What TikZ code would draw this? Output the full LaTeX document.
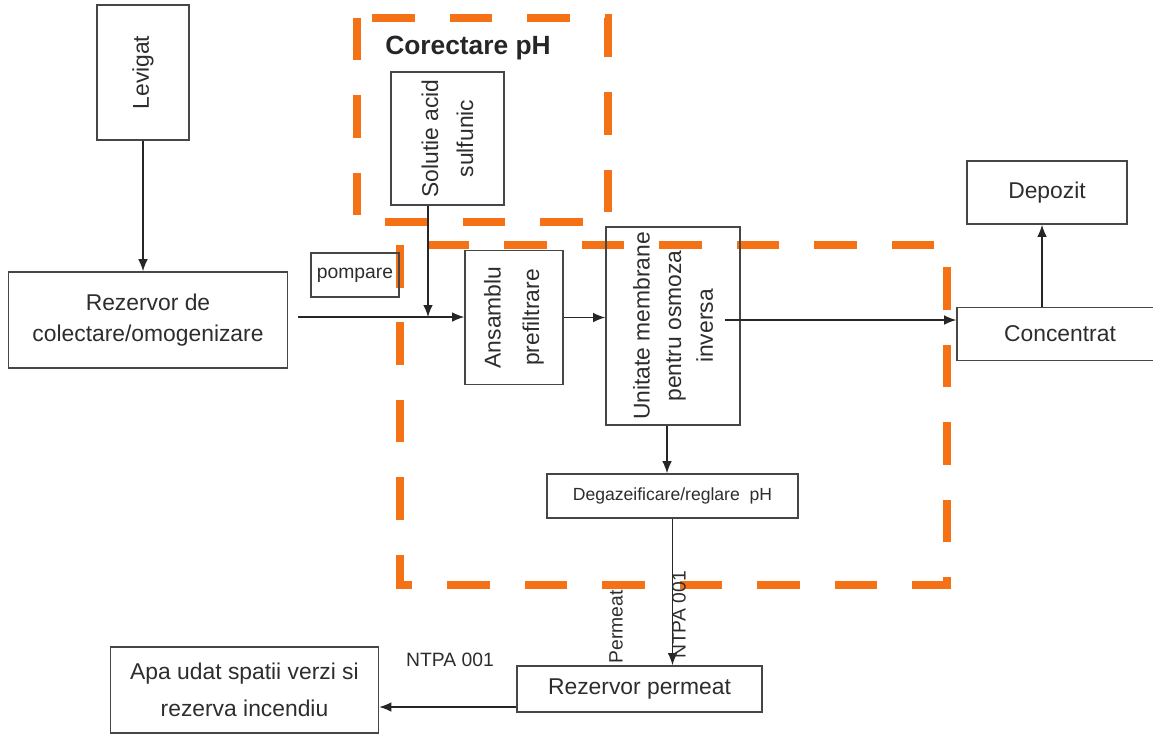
\documentclass[tikz,border=0pt]{standalone}
\usepackage{fontspec}
\setmainfont{Liberation Sans}
\usetikzlibrary{arrows.meta}
\definecolor{frameorange}{RGB}{244,113,22}
\definecolor{boxgray}{RGB}{70,70,70}
\definecolor{txtgray}{RGB}{45,45,45}
\begin{document}
\begin{tikzpicture}[x=0.02cm,y=-0.02cm,
  box/.style={draw=boxgray,line width=0.9pt,inner sep=0pt,align=center,text=txtgray,font=\fontsize{13}{18}\selectfont},
  vbox/.style={box,rotate=90},
  flow/.style={draw=black!85,line width=0.7pt,-{Latex[length=2.4mm,width=1.9mm]}},
  corr/.style={draw=frameorange,line width=4.5pt,dash pattern=on 0.85cm off 0.7cm},
  lbl/.style={text=txtgray,inner sep=0pt,font=\fontsize{11}{13}\selectfont}]
\useasboundingbox (0,0) rectangle (1153,735);
%pixel coordinates, y down; vbox: west=bottom, east=top, north=left, south=right

\draw[corr] (357,18) rectangle (608,222);
\draw[corr] (400,245) rectangle (947,585);
\node[font=\bfseries\fontsize{15}{18}\selectfont,text=black!85] (corhead) at (468,48) {Corectare pH};

\node[vbox,minimum width=2.70cm,minimum height=1.84cm] (lev) at (143,72.5) {Levigat};
\node[box,minimum width=5.58cm,minimum height=1.92cm] (rezcol) at (148,320) {Rezervor de\\colectare/omogenizare};
\node[box,minimum width=1.76cm,minimum height=0.88cm,font=\fontsize{11}{13}\selectfont] (pomp) at (355,275) {pompare};
\node[vbox,minimum width=2.66cm,minimum height=2.26cm,font=\fontsize{13}{20}\selectfont] (acid) at (447.5,138.5) {Solutie acid\\sulfunic};
\node[vbox,minimum width=2.68cm,minimum height=1.96cm,font=\fontsize{13}{22}\selectfont] (prefil) at (514,317.5) {Ansamblu\\prefiltrare};
\node[vbox,minimum width=3.96cm,minimum height=2.68cm] (osmoza) at (673,326) {Unitate membrane\\pentru osmoza\\inversa};
\node[box,minimum width=5.02cm,minimum height=0.88cm,font=\fontsize{10}{12}\selectfont] (degaz) at (672.5,496) {Degazeificare/reglare\ \ pH};
\node[box,minimum width=3.20cm,minimum height=1.26cm] (depozit) at (1047,192.5) {Depozit};
\node[box,minimum width=4.12cm,minimum height=1.06cm] (concentrat) at (1060,334) {Concentrat};
\node[box,minimum width=4.90cm,minimum height=0.92cm] (permeat) at (639.5,689) {Rezervor permeat};
\node[box,minimum width=5.36cm,minimum height=1.72cm,font=\fontsize{13}{21}\selectfont] (apa) at (244.5,690) {Apa udat spatii verzi si\\rezerva incendiu};

\coordinate (mix) at (428,317);
\draw[flow] (lev.west) -- (lev.west |- rezcol.north);
\draw[flow] ([xshift=0.2cm]rezcol.east |- mix) -- (prefil.north |- mix);
\draw[flow] (acid.west -| mix) -- (mix);
\draw[flow] (prefil.south) -- (osmoza.north |- prefil.south);
\draw[flow] ([shift={(-0.32cm,0.12cm)}]osmoza.south) coordinate (roout) -- (roout -| concentrat.west);
\draw[flow] ([xshift=-0.1cm]depozit.south |- concentrat.north) -- ([xshift=-0.1cm]depozit.south);
\draw[flow] ([xshift=-0.12cm]osmoza.west) -- ([xshift=-0.12cm]osmoza.west |- degaz.north);
\draw[flow] (degaz.south) -- (degaz.south |- permeat.north);
\draw[flow] ([yshift=-0.36cm]permeat.west) coordinate (pout) -- (pout -| apa.east);

\node[lbl,rotate=90] (lblperm) at (616,627) {Permeat};
\node[lbl,rotate=90] (lblntpa) at (679,615) {NTPA 001};
\node[lbl] (lblntpa2) at (450,660) {NTPA 001};
\end{tikzpicture}
\end{document}
